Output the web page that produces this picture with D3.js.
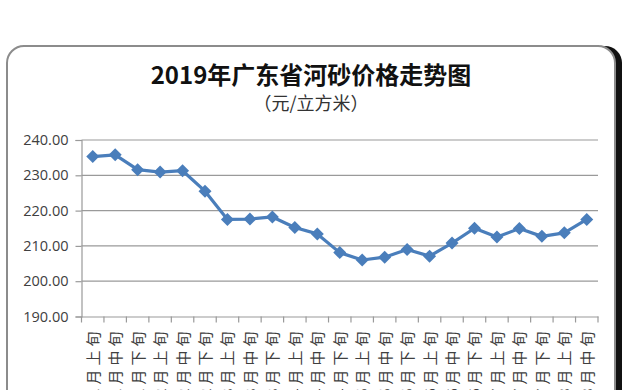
<!DOCTYPE html>
<html><head><meta charset="utf-8">
<script src="https://cdn.jsdelivr.net/npm/d3@7"></script>
<style>body{margin:0;background:#fff;}svg{display:block;}</style>
</head><body>
<script>
const categories = ["1月上旬","1月中旬","1月下旬","2月上旬","2月中旬","2月下旬","3月上旬","3月中旬","3月下旬","4月上旬","4月中旬","4月下旬","5月上旬","5月中旬","5月下旬","6月上旬","6月中旬","6月下旬","7月上旬","7月中旬","7月下旬","8月上旬","8月中旬"];
const prices = [235.3,235.8,231.6,230.9,231.3,225.5,217.5,217.6,218.2,215.2,213.4,208.1,206.0,206.8,209.0,207.1,210.8,215.0,212.5,214.9,212.7,213.7,217.5];
const yTicks = [190,200,210,220,230,240];
const title = "2019年广东省河砂价格走势图";
const subtitle = "（元/立方米）";

(function () {
const W = 633, H = 390;
const svg = d3.select("body").append("svg").attr("width", W).attr("height", H);

// frame with dark right shadow
svg.append("rect").attr("x", 14).attr("y", 46).attr("width", 608).attr("height", 420)
  .attr("rx", 17).attr("fill", "#111");
svg.append("rect").attr("x", 7).attr("y", 46).attr("width", 608).attr("height", 420)
  .attr("rx", 17).attr("fill", "#fff").attr("stroke", "#8c8c8c").attr("stroke-width", 2);

svg.append("text").attr("x", 311).attr("y", 84).attr("text-anchor", "middle")
  .attr("font-family", "Noto Sans CJK SC, sans-serif").attr("font-weight", "bold")
  .attr("font-size", 24).attr("fill", "#111").text(title);
svg.append("text").attr("x", 311).attr("y", 110).attr("text-anchor", "middle")
  .attr("font-family", "Noto Sans CJK SC, sans-serif")
  .attr("font-size", 18).attr("fill", "#333").text(subtitle);

const pl = 81.5, pr = 598, pt = 140, pb = 316.5;
const x = d3.scaleBand().domain(categories).range([pl, pr]);
const y = d3.scaleLinear().domain([190, 240]).range([pb, pt]);

// gridlines
svg.append("g").selectAll("line").data(yTicks.filter(d => d !== 190)).join("line")
  .attr("x1", pl).attr("x2", pr).attr("y1", d => y(d)).attr("y2", d => y(d))
  .attr("stroke", "#9a9a9a").attr("stroke-width", 1.2);

// y axis
const yAxis = svg.append("g").attr("transform", `translate(${pl},0)`)
  .call(d3.axisLeft(y).tickValues(yTicks).tickFormat(d3.format(".2f")).tickSize(6).tickPadding(7));
yAxis.select(".domain").attr("stroke", "#9a9a9a").attr("stroke-width", 1.2);
yAxis.selectAll(".tick line").attr("stroke", "#9a9a9a").attr("stroke-width", 1.2);
yAxis.selectAll("text").attr("font-family", "Open Sans, sans-serif").attr("font-size", 14.5).attr("fill", "#404040");

// x axis
const xAxis = svg.append("g").attr("transform", `translate(0,${pb})`)
  .call(d3.axisBottom(x).tickSize(0).tickFormat(""));
xAxis.select(".domain").attr("stroke", "#9a9a9a").attr("stroke-width", 1.2);
const bounds = categories.map(c => x(c)).concat([pr]);
svg.append("g").selectAll("line").data(bounds).join("line")
  .attr("x1", d => d).attr("x2", d => d).attr("y1", pb).attr("y2", pb + 6)
  .attr("stroke", "#9a9a9a").attr("stroke-width", 1.2);
svg.append("g").selectAll("text").data(categories).join("text")
  .attr("transform", d => `translate(${x(d) + x.bandwidth()/2 + 6},${pb + 11}) rotate(-90)`)
  .attr("text-anchor", "end")
  .attr("letter-spacing", 4)
  .attr("font-family", "Noto Sans CJK SC, sans-serif").attr("font-size", 15).attr("fill", "#404040")
  .text(d => d);

// line
const line = d3.line().x((d, i) => x(categories[i]) + x.bandwidth()/2).y(d => y(d));
svg.append("path").datum(prices).attr("d", line).attr("fill", "none")
  .attr("stroke", "#4a7ebb").attr("stroke-width", 3.2).attr("stroke-linejoin", "round");
svg.append("g").selectAll("path").data(prices).join("path")
  .attr("transform", (d, i) => `translate(${x(categories[i]) + x.bandwidth()/2},${y(d)})`)
  .attr("d", "M0,-6.5L6.5,0L0,6.5L-6.5,0Z").attr("fill", "#4a7ebb");
})();
</script>
</body></html>
